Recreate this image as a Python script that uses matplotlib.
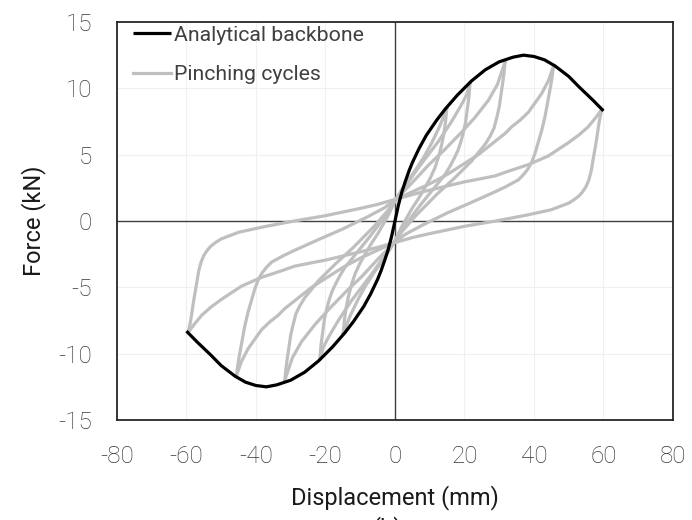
import matplotlib.pyplot as plt
import numpy as np

# analytical backbone (mm, kN)
bb_x = [-60, -57, -53, -50, -46, -43, -40, -37, -34, -30, -26, -22, -18, -14.5, -12, -9, -7, -5, -4, -3, -2, -1,
        0, 1, 2, 3, 4, 5, 7, 9, 12, 14.5, 18, 22, 26, 30, 34, 37, 40, 43, 46, 50, 53, 57, 60]
bb_y = [-8.3, -9.1, -10.1, -10.9, -11.7, -12.15, -12.4, -12.5, -12.35, -12.0, -11.4, -10.55, -9.5, -8.45, -7.6, -6.45, -5.5, -4.4, -3.75, -3.0, -2.2, -1.2,
        0, 1.2, 2.2, 3.0, 3.75, 4.4, 5.5, 6.45, 7.6, 8.45, 9.5, 10.55, 11.4, 12.0, 12.35, 12.5, 12.4, 12.15, 11.7, 10.9, 10.1, 9.1, 8.3]

# pinching cycles: loading branch (neg. peak -> pos. peak) and unloading branch (pos. peak -> neg. peak)
c1_up_x = [-14.9, -14.6, -14.1, -13.4, -12.5, -11.5, -10.1, -8.6, -6.8, -4.8, -2.0, 0.3, 3.0, 5.8, 8.5, 10.6, 12.8, 14.9]
c1_up_y = [-8.45, -7.6, -6.6, -5.7, -4.8, -4.0, -3.2, -2.5, -1.7, -0.9, 0.4, 1.65, 2.8, 3.8, 4.9, 5.9, 7.1, 8.45]
c1_dn_x = [14.9, 14.6, 14.1, 13.4, 12.5, 11.5, 10.1, 8.6, 6.8, 4.8, 2.0, -0.3, -3.0, -5.8, -8.5, -10.6, -12.8, -14.9]
c1_dn_y = [8.45, 7.6, 6.6, 5.7, 4.8, 4.0, 3.2, 2.5, 1.7, 0.9, -0.4, -1.65, -2.8, -3.8, -4.9, -5.9, -7.1, -8.45]

c2_up_x = [-21.6, -21.3, -20.8, -20.3, -19.7, -19.0, -18.1, -17.0, -15.8, -14.4, -11.0, -7.0, -3.0, 0.3,
           4.0, 7.0, 9.6, 12.5, 16.3, 19.0, 20.6, 21.6]
c2_up_y = [-10.4, -9.4, -8.4, -7.4, -6.7, -6.0, -5.3, -4.7, -4.1, -3.5, -2.4, -1.1, 0.3, 1.65,
           3.0, 4.1, 5.0, 6.0, 7.5, 8.7, 9.5, 10.4]
c2_dn_x = [21.6, 21.3, 20.8, 20.3, 19.7, 19.0, 18.1, 17.0, 15.8, 14.4, 11.0, 7.0, 3.0, -0.3,
           -4.0, -7.0, -9.6, -12.5, -16.3, -19.0, -20.6, -21.6]
c2_dn_y = [10.4, 9.4, 8.4, 7.4, 6.7, 6.0, 5.3, 4.7, 4.1, 3.5, 2.4, 1.1, -0.3, -1.65,
           -3.0, -4.1, -5.0, -6.0, -7.5, -8.7, -9.5, -10.4]

c3_up_x = [-31.7, -31.4, -31.0, -30.5, -30.0, -29.3, -28.5, -27.4, -26.0, -22.0, -17.0, -12.0, -6.0, -2.0, 0.3,
           5.0, 9.6, 14.0, 19.2, 23.0, 26.9, 29.5, 31.7]
c3_up_y = [-12.0, -11.2, -10.4, -9.5, -8.6, -7.8, -7.0, -6.4, -5.8, -4.5, -3.2, -2.0, -0.4, 0.8, 1.65,
           2.9, 4.2, 5.3, 6.7, 7.8, 9.1, 10.3, 12.0]
c3_dn_x = [31.7, 31.4, 31.0, 30.5, 30.0, 29.3, 28.5, 27.4, 26.0, 22.0, 17.0, 12.0, 6.0, 2.0, -0.3,
           -5.0, -9.6, -14.0, -19.2, -23.0, -26.9, -29.5, -31.7]
c3_dn_y = [12.0, 11.2, 10.4, 9.5, 8.6, 7.8, 7.0, 6.4, 5.8, 4.5, 3.2, 2.0, 0.4, -0.8, -1.65,
           -2.9, -4.2, -5.3, -6.7, -7.8, -9.1, -10.3, -12.0]

c4_up_x = [-45.6, -45.2, -44.6, -43.9, -43.2, -42.3, -41.2, -40.3, -39.3, -38.2, -37.0, -35.5, -32.0, -28.8, -22.0, -15.0, -8.0, -3.0, 0.3,
           5.0, 10.0, 15.0, 19.2, 24.0, 28.8, 31.7, 33.6, 36.0, 38.4, 40.3, 42.2, 44.2, 45.6]
c4_up_y = [-11.65, -10.8, -9.9, -8.9, -7.9, -6.9, -5.9, -5.1, -4.4, -3.9, -3.5, -3.1, -2.6, -2.2, -1.4, -0.6, 0.3, 1.0, 1.65,
           2.2, 2.8, 3.5, 4.2, 5.0, 6.0, 6.6, 7.1, 7.6, 8.2, 8.9, 9.6, 10.6, 11.65]
c4_dn_x = [45.6, 45.2, 44.6, 43.9, 43.2, 42.3, 41.2, 40.3, 39.3, 38.2, 37.0, 35.5, 32.0, 28.8, 22.0, 15.0, 8.0, 3.0, -0.3,
           -5.0, -10.0, -15.0, -19.2, -24.0, -28.8, -31.7, -33.6, -36.0, -38.4, -40.3, -42.2, -44.2, -45.6]
c4_dn_y = [11.65, 10.8, 9.9, 8.9, 7.9, 6.9, 5.9, 5.1, 4.4, 3.9, 3.5, 3.1, 2.6, 2.2, 1.4, 0.6, -0.3, -1.0, -1.65,
           -2.2, -2.8, -3.5, -4.2, -5.0, -6.0, -6.6, -7.1, -7.6, -8.2, -8.9, -9.6, -10.6, -11.65]

c5_up_x = [-59.5, -59.0, -58.6, -58.1, -57.6, -57.0, -56.5, -55.8, -55.0, -54.0, -53.0, -51.5, -50.0, -47.5, -45.0, -38.0, -29.0, -20.0, -10.0, -5.0, 0.3,
           8.0, 16.0, 20.0, 24.0, 28.8, 32.6, 38.4, 44.1, 49.9, 53.0, 55.6, 57.8, 59.5]
c5_up_y = [-8.4, -7.8, -7.2, -6.3, -5.5, -4.6, -3.8, -3.1, -2.6, -2.2, -1.9, -1.6, -1.35, -1.1, -0.85, -0.45, 0.0, 0.4, 0.95, 1.25, 1.65,
           2.2, 2.7, 2.95, 3.15, 3.4, 3.75, 4.25, 4.9, 5.9, 6.5, 7.1, 7.8, 8.4]
c5_dn_x = [59.5, 59.0, 58.6, 58.1, 57.6, 57.0, 56.5, 55.8, 55.0, 54.0, 53.0, 51.5, 50.0, 47.5, 45.0, 38.0, 29.0, 20.0, 10.0, 5.0, -0.3,
           -8.0, -16.0, -20.0, -24.0, -28.8, -32.6, -38.4, -44.1, -49.9, -53.0, -55.6, -57.8, -59.5]
c5_dn_y = [8.4, 7.8, 7.2, 6.3, 5.5, 4.6, 3.8, 3.1, 2.6, 2.2, 1.9, 1.6, 1.35, 1.1, 0.85, 0.45, 0.0, -0.4, -0.95, -1.25, -1.65,
           -2.2, -2.7, -2.95, -3.15, -3.4, -3.75, -4.25, -4.9, -5.9, -6.5, -7.1, -7.8, -8.4]

cycles = [
    (c1_up_x, c1_up_y, c1_dn_x, c1_dn_y),
    (c2_up_x, c2_up_y, c2_dn_x, c2_dn_y),
    (c3_up_x, c3_up_y, c3_dn_x, c3_dn_y),
    (c4_up_x, c4_up_y, c4_dn_x, c4_dn_y),
    (c5_up_x, c5_up_y, c5_dn_x, c5_dn_y),
]

x_ticks = [-80, -60, -40, -20, 0, 20, 40, 60, 80]
y_ticks = [-15, -10, -5, 0, 5, 10, 15]

plt.rcParams['font.family'] = ['Roboto', 'DejaVu Sans']
plt.rcParams['axes.unicode_minus'] = False

fig = plt.figure(figsize=(6.92, 5.2), dpi=100)
ax = fig.add_axes([0.169, 0.1923, 0.8035, 0.7654])

gray = '#bfbfbf'
ax.plot(bb_x, bb_y, color='black', lw=2.3, zorder=4, label='Analytical backbone',
        solid_capstyle='butt')
for i, (ux, uy, dx, dy) in enumerate(cycles):
    ax.plot(ux, uy, color=gray, lw=2.3, zorder=3, solid_joinstyle='round',
            label='Pinching cycles' if i == 0 else None)
    ax.plot(dx, dy, color=gray, lw=2.3, zorder=3, solid_joinstyle='round')

ax.axhline(0, color='#404040', lw=1.0, zorder=2)
ax.axvline(0, color='#404040', lw=1.0, zorder=2)

ax.set_xlim(-80, 80)
ax.set_ylim(-15, 15)
ax.set_xticks(x_ticks)
ax.set_yticks(y_ticks)
ax.grid(True, color='#f0f0f0', lw=0.8, zorder=0)
ax.set_axisbelow(True)
ax.tick_params(length=0, labelsize=17.5, labelcolor='#383838')
ax.tick_params(axis='x', pad=18)
ax.tick_params(axis='y', pad=18)
for lab in ax.get_xticklabels() + ax.get_yticklabels():
    lab.set_fontweight('light')
for s in ax.spines.values():
    s.set_color('#262626')
    s.set_linewidth(1.3)

ax.set_xlabel('Displacement (mm)', fontsize=17, color='#1a1a1a', labelpad=12)
ax.set_ylabel('Force (kN)', fontsize=17, color='#1a1a1a', labelpad=9)

leg = ax.legend(loc='upper left', bbox_to_anchor=(0.0288, 0.9905), frameon=False, fontsize=15.3,
                handlelength=1.8, handletextpad=0.15, labelspacing=0.95,
                borderaxespad=0, borderpad=0)
for t in leg.get_texts():
    t.set_color('#404040')

fig.text(0.56, 0.008, '(b)', fontsize=17, color='#1a1a1a', ha='center', va='top')

fig.savefig('out.png', dpi=100)
